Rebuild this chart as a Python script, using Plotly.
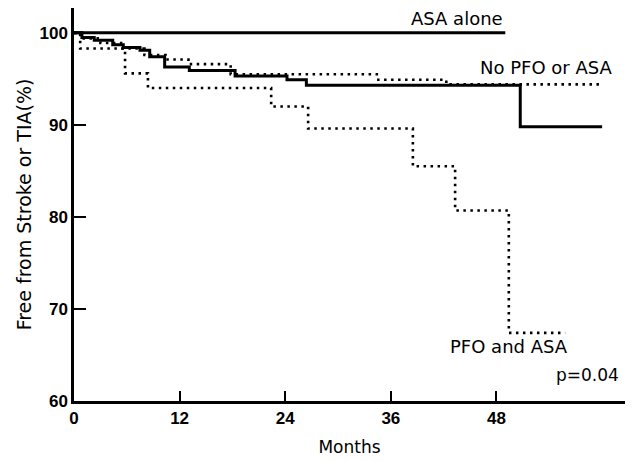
import plotly.graph_objects as go

# Data (months, % free from stroke or TIA)
asa_months = [0, 49.0]
asa_surv = [100, 100]

pfo_months = [0, 0.9, 2.3, 4.4, 5.6, 7.5, 8.6, 10.3, 13.1, 18.3, 24.2, 26.4, 50.7, 60.0]
pfo_surv = [100, 99.5, 99.2, 98.7, 98.4, 98.1, 97.4, 96.3, 95.9, 95.3, 94.9, 94.3, 89.8, 89.8]

none_months = [0, 0.8, 3.0, 5.5, 8.0, 10.4, 13.0, 17.8, 34.4, 42.3, 59.8]
none_surv = [100, 99.4, 98.9, 98.3, 97.6, 97.1, 96.6, 95.5, 94.9, 94.4, 94.4]

both_months = [0, 0.7, 5.8, 8.4, 22.4, 26.6, 38.5, 43.3, 49.4, 55.8]
both_surv = [100, 98.3, 95.6, 94.0, 92.0, 89.6, 85.5, 80.7, 67.4, 67.4]

x_ticks = [0, 12, 24, 36, 48]
y_ticks = [60, 70, 80, 90, 100]

DOT = "2.5px,4.5px"

fig = go.Figure()
fig.add_trace(go.Scatter(x=none_months, y=none_surv, mode="lines", line_shape="hv",
                         line=dict(color="black", width=2.6, dash=DOT), name="No PFO or ASA"))
fig.add_trace(go.Scatter(x=both_months, y=both_surv, mode="lines", line_shape="hv",
                         line=dict(color="black", width=2.6, dash=DOT), name="PFO and ASA"))
fig.add_trace(go.Scatter(x=pfo_months, y=pfo_surv, mode="lines", line_shape="hv",
                         line=dict(color="black", width=3), name="PFO alone"))
fig.add_trace(go.Scatter(x=asa_months, y=asa_surv, mode="lines", line_shape="hv",
                         line=dict(color="black", width=3), name="ASA alone"))

lab_font = dict(family="DejaVu Sans", size=18, color="black")
annos = [
    dict(x=49.0, y=101.6, text="ASA alone", xanchor="right", yanchor="middle"),
    dict(x=61.5, y=96.2, text="No PFO or ASA", xanchor="right", yanchor="middle"),
    dict(x=62.7, y=88.0, text="PFO alone", xanchor="right", yanchor="middle"),
    dict(x=56.4, y=65.9, text="PFO and ASA", xanchor="right", yanchor="middle"),
    dict(x=62.1, y=62.8, text="p=0.04", xanchor="right", yanchor="middle",
         font=dict(family="DejaVu Sans", size=17, color="black")),
]
for a in annos:
    a.setdefault("font", lab_font)
    a.update(xref="x", yref="y", showarrow=False)

# The page body has an 8px margin, so the figure is sized to fit the window.
fig.update_layout(
    width=625, height=453,
    margin=dict(l=66, r=8, t=0, b=60),
    paper_bgcolor="white", plot_bgcolor="white",
    showlegend=False,
    annotations=annos,
    xaxis=dict(
        range=[0, 62.6], tickvals=x_ticks, ticktext=[str(v) for v in x_ticks],
        showgrid=False, zeroline=False, showline=True, linecolor="black", linewidth=2.5,
        ticks="inside", ticklen=10, tickwidth=2, tickcolor="black",
        tickfont=dict(family="Liberation Sans", size=17, color="black", weight="bold"),
        title=dict(text="Months", font=dict(family="DejaVu Sans", size=17, color="black"), standoff=14),
    ),
    yaxis=dict(
        range=[60, 102.7], tickvals=y_ticks, ticktext=[str(v) for v in y_ticks],
        showgrid=False, zeroline=False, showline=True, linecolor="black", linewidth=2.5,
        ticks="inside", ticklen=12, tickwidth=2, tickcolor="black",
        tickfont=dict(family="Liberation Sans", size=17, color="black", weight="bold"),
        title=dict(text="Free from Stroke or TIA(%)", font=dict(family="DejaVu Sans", size=19, color="black"), standoff=3),
    ),
)

fig.write_html("out.html")
